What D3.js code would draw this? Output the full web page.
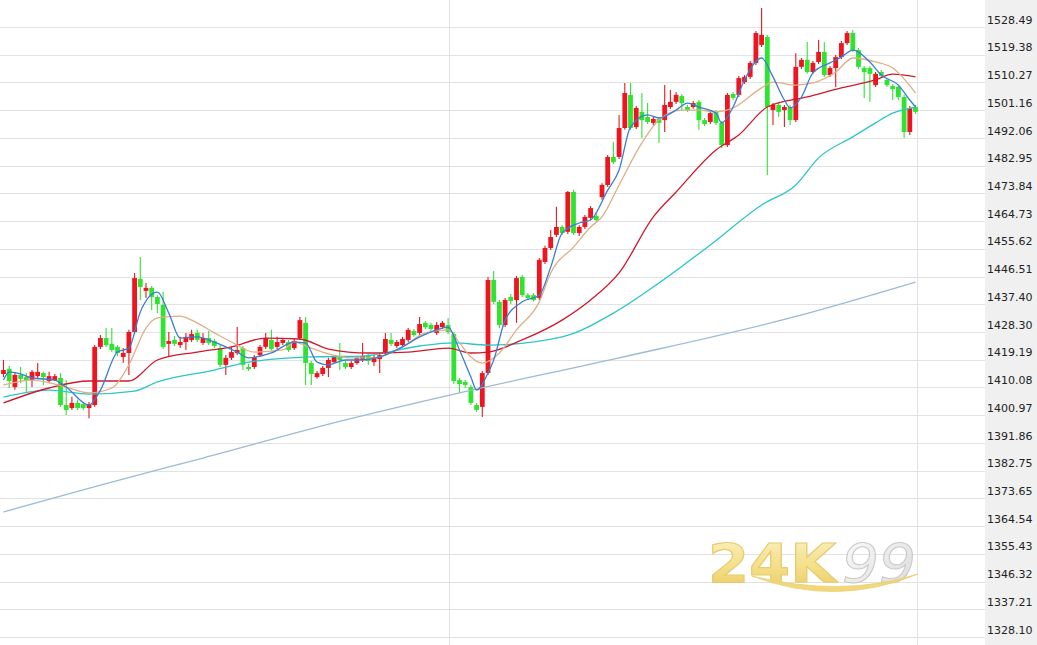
<!DOCTYPE html>
<html>
<head>
<meta charset="utf-8">
<script src="https://cdn.jsdelivr.net/npm/d3@7"></script>
<style>
  html, body { margin: 0; padding: 0; background: #fff; overflow: hidden; }
  svg { display: block; }
</style>
</head>
<body>
<script>
// K線 (one value per candle)
const opens = [
  1414.5,1416.2,1410.2,1414.2,1413.5,1412.5,1413.8,1414.8,1412.2,1412.5,
  1413.2,1404.3,1403.3,1405.0,1404.6,1403.3,1404.3,1423.4,1426.3,1424.4,
  1423.4,1420.1,1421.4,1428.3,1445.7,1441.8,1442.8,1439.8,1437.2,1424.4,
  1425.7,1424.0,1425.0,1425.7,1428.0,1424.7,1426.3,1425.3,1423.0,1417.5,
  1419.8,1421.4,1423.0,1416.8,1416.8,1420.7,1423.4,1425.7,1423.4,1424.7,
  1425.0,1423.0,1426.3,1431.3,1418.1,1413.5,1414.5,1416.5,1418.4,1420.1,
  1418.1,1416.8,1418.1,1419.1,1420.4,1418.4,1419.4,1421.7,1425.7,1423.7,
  1424.0,1425.7,1428.6,1428.0,1431.3,1430.6,1428.0,1429.9,1430.6,1427.6,
  1412.5,1411.9,1410.2,1404.3,1403.7,1414.8,1445.4,1438.2,1430.6,1439.8,
  1438.8,1446.4,1440.4,1440.4,1439.5,1451.3,1455.9,1460.2,1462.8,1461.2,
  1474.3,1460.8,1462.8,1465.8,1466.4,1472.6,1476.6,1485.8,1485.8,1495.3,
  1506.2,1495.6,1500.6,1498.9,1497.0,1498.3,1497.9,1502.2,1503.9,1505.8,
  1502.2,1502.2,1503.9,1497.9,1497.3,1500.6,1497.0,1489.7,1506.5,1506.2,
  1510.4,1512.1,1516.7,1522.6,1525.2,1501.2,1502.9,1501.2,1502.2,1497.9,
  1515.4,1517.7,1513.7,1517.0,1520.3,1512.7,1515.0,1518.6,1523.2,1526.5,
  1520.9,1515.0,1515.0,1509.4,1513.7,1511.1,1509.1,1508.8,1505.5,1494.0,
  1502.2
];
const highs = [
  1419.1,1417.1,1414.8,1416.8,1414.8,1415.8,1418.1,1415.2,1415.2,1414.5,
  1414.8,1412.5,1407.0,1406.0,1405.3,1405.3,1424.0,1427.3,1429.6,1429.6,
  1424.0,1423.0,1429.0,1447.7,1452.9,1444.4,1443.4,1440.4,1441.4,1428.3,
  1427.0,1426.7,1428.0,1429.0,1429.0,1428.0,1428.6,1426.0,1424.0,1420.7,
  1423.4,1429.9,1423.7,1417.8,1420.7,1424.0,1428.0,1429.0,1426.7,1426.3,
  1425.7,1426.0,1433.2,1433.2,1418.8,1415.5,1417.1,1419.8,1420.7,1424.7,
  1418.8,1418.8,1420.4,1424.7,1421.1,1420.7,1421.4,1428.0,1428.0,1425.7,
  1426.7,1429.6,1429.3,1433.2,1431.9,1431.3,1431.6,1431.9,1432.9,1428.3,
  1413.2,1412.5,1410.9,1405.0,1415.5,1446.4,1448.3,1438.8,1439.5,1440.8,
  1446.7,1447.0,1441.1,1441.1,1452.6,1456.6,1461.8,1469.4,1463.4,1474.6,
  1475.0,1463.4,1466.7,1469.7,1467.4,1477.2,1486.4,1490.7,1499.6,1510.1,
  1510.1,1502.5,1506.8,1503.5,1498.9,1498.9,1509.4,1507.8,1507.1,1506.5,
  1502.9,1504.2,1504.5,1498.6,1501.2,1501.2,1497.6,1506.8,1507.1,1512.4,
  1512.7,1517.3,1527.2,1534.7,1525.9,1503.5,1503.5,1502.9,1502.9,1519.9,
  1518.3,1523.6,1517.3,1524.2,1523.6,1515.7,1519.3,1523.9,1527.2,1527.5,
  1521.6,1515.7,1515.7,1513.7,1514.4,1511.7,1509.8,1509.4,1506.2,1502.5,
  1502.9
];
const lows = [
  1413.5,1409.9,1409.3,1411.5,1408.3,1410.2,1413.2,1410.9,1411.5,1412.2,
  1403.7,1401.0,1402.7,1402.7,1402.7,1400.0,1403.7,1422.7,1423.4,1421.7,
  1420.4,1418.1,1414.2,1427.6,1438.8,1439.5,1435.5,1434.5,1422.7,1420.1,
  1423.7,1423.0,1422.4,1425.0,1425.0,1424.0,1424.0,1423.0,1416.8,1414.2,
  1419.1,1420.7,1415.8,1415.5,1416.1,1420.1,1422.7,1422.1,1422.7,1424.0,
  1421.7,1422.4,1425.7,1410.9,1410.9,1412.9,1413.8,1413.5,1417.8,1415.8,
  1416.1,1416.1,1417.5,1418.4,1417.5,1417.1,1414.8,1421.1,1423.7,1423.0,
  1423.4,1425.0,1426.7,1427.3,1429.3,1428.6,1427.3,1429.3,1427.6,1411.2,
  1408.3,1409.9,1404.3,1402.0,1400.4,1414.2,1437.5,1429.6,1429.9,1437.5,
  1431.3,1439.8,1438.8,1438.2,1438.8,1450.6,1455.2,1459.5,1460.2,1460.5,
  1460.2,1459.8,1462.1,1465.1,1464.4,1471.7,1475.9,1483.5,1485.1,1494.7,
  1494.7,1495.0,1492.0,1496.6,1496.3,1490.4,1494.0,1501.6,1503.2,1501.2,
  1500.6,1501.6,1494.7,1496.0,1496.6,1496.3,1488.7,1489.1,1504.5,1505.5,
  1509.8,1511.4,1516.0,1521.9,1479.9,1496.3,1498.9,1495.6,1496.3,1497.3,
  1514.7,1513.1,1513.1,1516.3,1512.1,1512.1,1508.8,1518.0,1522.6,1520.3,
  1514.7,1505.2,1503.9,1508.8,1511.7,1508.8,1504.5,1504.5,1492.0,1493.0,
  1499.9
];
const closes = [
  1415.8,1412.2,1414.2,1412.9,1412.5,1415.2,1415.2,1413.5,1413.8,1413.8,
  1404.3,1402.7,1405.0,1403.3,1403.3,1404.6,1423.4,1426.3,1424.0,1422.4,
  1421.4,1421.4,1428.3,1446.0,1443.1,1442.8,1439.8,1437.5,1423.4,1425.3,
  1424.4,1425.0,1426.7,1427.6,1425.7,1426.3,1424.7,1423.7,1417.5,1419.8,
  1421.7,1422.4,1417.5,1416.1,1420.1,1423.4,1426.3,1422.7,1425.0,1425.7,
  1422.4,1425.3,1432.2,1418.1,1414.5,1414.8,1416.5,1419.1,1420.1,1419.1,
  1416.8,1418.1,1419.8,1420.4,1418.8,1420.1,1420.7,1426.0,1424.4,1425.0,
  1426.0,1429.0,1427.3,1430.9,1429.9,1429.3,1430.6,1431.3,1428.3,1412.2,
  1411.2,1410.9,1405.0,1402.7,1414.8,1445.4,1438.2,1430.6,1438.8,1438.5,
  1446.0,1440.4,1439.5,1438.8,1452.0,1455.9,1459.5,1462.8,1460.8,1474.3,
  1460.8,1462.8,1466.1,1469.0,1465.1,1476.6,1485.8,1484.1,1495.3,1506.8,
  1495.3,1501.9,1497.9,1497.3,1498.3,1497.0,1502.9,1503.9,1506.2,1503.5,
  1501.2,1503.5,1497.9,1496.6,1500.2,1497.0,1489.7,1506.2,1505.2,1511.7,
  1512.1,1516.7,1526.5,1525.9,1502.2,1502.9,1500.6,1502.2,1497.9,1515.4,
  1517.7,1513.7,1516.7,1520.3,1512.7,1515.0,1518.6,1523.2,1526.5,1520.9,
  1515.4,1513.7,1513.1,1513.1,1512.4,1509.4,1508.1,1505.5,1494.0,1501.9,
  1500.6
];

// 均線 [candle index, value]
const maFast = [[0,1412.5],[1,1415.2],[3,1414.5],[5,1413.2],[9,1412.5],[11,1410.2],[15,1404.3],[17,1409.2],
  [20,1421.7],[22,1423.0],[24,1434.9],[27,1441.4],[29,1434.5],[31,1426.3],[34,1426.7],[37,1425.0],
  [41,1421.7],[43,1419.8],[47,1421.4],[51,1425.0],[53,1424.7],[55,1418.4],[57,1417.5],[60,1419.1],
  [63,1419.1],[66,1420.1],[70,1423.4],[73,1426.7],[76,1429.0],[78,1429.9],[80,1422.4],[82,1413.5],
  [83,1409.2],[85,1414.8],[86,1419.1],[88,1432.2],[91,1438.2],[94,1440.4],[96,1449.6],[98,1460.8],
  [101,1464.1],[103,1465.1],[106,1474.9],[108,1481.5],[110,1495.6],[113,1499.6],[115,1498.6],
  [118,1501.2],[120,1503.5],[122,1502.2],[125,1500.2],[126,1497.0],[128,1502.2],[130,1511.1],
  [133,1518.3],[135,1512.1],[137,1504.5],[138,1501.9],[140,1505.5],[142,1513.4],[145,1516.7],
  [147,1518.6],[149,1520.9],[152,1517.0],[154,1512.7],[157,1509.4],[159,1504.5],[160,1502.2]];
const maMid = [[0,1410.9],[5,1412.5],[11,1410.2],[15,1408.3],[19,1409.9],[22,1417.5],[25,1429.6],
  [27,1432.9],[31,1433.5],[33,1432.2],[37,1428.0],[40,1425.0],[44,1421.7],[49,1422.4],[51,1425.0],
  [54,1423.0],[57,1421.1],[61,1419.8],[65,1419.8],[70,1423.4],[74,1428.0],[78,1429.0],[80,1424.7],
  [82,1420.1],[84,1418.1],[87,1421.4],[90,1429.0],[94,1438.2],[96,1447.7],[100,1456.2],[103,1462.8],
  [105,1466.1],[108,1476.6],[112,1490.4],[115,1498.0],[119,1501.2],[122,1501.2],[125,1500.6],
  [128,1501.9],[133,1508.5],[135,1510.4],[139,1509.4],[142,1510.1],[146,1513.7],[149,1518.3],
  [153,1517.0],[156,1515.0],[160,1506.8]];
const maSlow = [[0,1405.0],[8,1409.9],[15,1412.2],[22,1412.2],[27,1419.1],[34,1421.7],[40,1423.4],
  [46,1426.3],[52,1426.0],[57,1422.7],[64,1421.4],[71,1421.7],[78,1423.0],[82,1421.4],[85,1421.7],
  [91,1425.7],[98,1432.2],[103,1438.8],[108,1447.7],[114,1466.1],[118,1474.3],[125,1488.1],
  [129,1493.0],[134,1502.2],[141,1505.5],[147,1508.5],[153,1511.1],[156,1513.0],[160,1512.1]];
const maLong = [[0,1406.9],[8,1409.2],[15,1407.9],[23,1408.9],[27,1411.9],[37,1415.8],[43,1418.4],
  [54,1420.1],[63,1420.4],[73,1423.7],[79,1424.7],[85,1424.0],[98,1426.7],[107,1434.5],[115,1444.4],
  [124,1456.9],[133,1470.0],[139,1476.6],[143,1485.5],[149,1492.4],[153,1497.0],
  [156,1500.2],[160,1502.2]];
const maTrend = [[0,1369.2],[17,1378.0],[35,1386.9],[60,1399.4],[80,1408.3],[108,1419.8],
  [138,1432.9],[160,1444.7]];

// 右側刻度
const tickLabels = ["1528.49","1519.38","1510.27","1501.16","1492.06","1482.95","1473.84","1464.73",
  "1455.62","1446.51","1437.40","1428.30","1419.19","1410.08","1400.97","1391.86","1382.75",
  "1373.65","1364.54","1355.43","1346.32","1337.21","1328.10"];
const sessionBreaks = [78.2, 160.2];

const w = 1037;
const h = 645;
const plotRight = 985;

const svg = d3.select("body").append("svg").attr("width", w).attr("height", h);

const x = d3.scaleLinear().domain([0, 160]).range([3.5, 915.5]);
const y = d3.scaleLinear().domain([1328.10, 1528.49]).range([637, 27]);
const tickValues = tickLabels.map(Number);

// 右側價格欄背景
svg.append("rect")
  .attr("x", plotRight).attr("y", 0)
  .attr("width", w - plotRight).attr("height", h)
  .attr("fill", "#f0f0f0");

// 水平格線
const grid = svg.append("g")
  .attr("shape-rendering", "crispEdges")
  .call(d3.axisRight(y).tickValues(tickValues).tickSize(plotRight).tickFormat(""));
grid.select(".domain").remove();
grid.selectAll("line").attr("stroke", "#e2e2e2");

// 垂直格線
svg.append("g")
  .attr("shape-rendering", "crispEdges")
  .selectAll("line")
  .data(sessionBreaks)
  .enter()
  .append("line")
  .attr("x1", d => Math.round(x(d)) + 0.5)
  .attr("x2", d => Math.round(x(d)) + 0.5)
  .attr("y1", 0)
  .attr("y2", h)
  .attr("stroke", "#e2e2e2");

// 浮水印 24K99
const defs = svg.append("defs");
const gold = defs.append("linearGradient").attr("id", "gold").attr("x1", 0).attr("y1", 0).attr("x2", 0).attr("y2", 1);
gold.append("stop").attr("offset", "0%").attr("stop-color", "#fbf1c0");
gold.append("stop").attr("offset", "55%").attr("stop-color", "#f4dc7c");
gold.append("stop").attr("offset", "100%").attr("stop-color", "#e8c24e");
const silver = defs.append("linearGradient").attr("id", "silver").attr("x1", 0).attr("y1", 0).attr("x2", 1).attr("y2", 1);
silver.append("stop").attr("offset", "0%").attr("stop-color", "#fdfdfd");
silver.append("stop").attr("offset", "100%").attr("stop-color", "#d4d4d4");

const mark = svg.append("g").attr("opacity", 0.9);
mark.append("text")
  .attr("x", 708).attr("y", 582)
  .attr("font-family", "'DejaVu Sans', sans-serif")
  .attr("font-weight", "bold")
  .attr("font-size", 54)
  .attr("textLength", 128)
  .attr("lengthAdjust", "spacingAndGlyphs")
  .attr("fill", "url(#gold)")
  .attr("stroke", "#e6c764")
  .attr("stroke-width", 1.2)
  .text("24K");
mark.append("text")
  .attr("x", 842).attr("y", 582)
  .attr("font-family", "'DejaVu Sans', sans-serif")
  .attr("font-style", "italic")
  .attr("font-size", 54)
  .attr("textLength", 74)
  .attr("lengthAdjust", "spacingAndGlyphs")
  .attr("fill", "url(#silver)")
  .attr("stroke", "#c4c4c4")
  .attr("stroke-width", 1)
  .text("99");
mark.append("path")
  .attr("d", "M752,576 Q835,608 918,574 Q842,598 752,576 Z")
  .attr("fill", "#f0d470")
  .attr("stroke", "#eacb5e")
  .attr("stroke-width", 0.8);

// K線
const candles = opens.map((o, i) => ({ i: i, o: o, h: highs[i], l: lows[i], c: closes[i] }));
const upColor = "#ec1520";
const downColor = "#2fe430";
const bodyW = 4.8;

const cg = svg.append("g").selectAll("g").data(candles).enter().append("g");
cg.append("line")
  .attr("x1", d => x(d.i))
  .attr("x2", d => x(d.i))
  .attr("y1", d => y(d.h))
  .attr("y2", d => y(d.l))
  .attr("stroke", d => (d.c >= d.o ? upColor : downColor))
  .attr("stroke-width", 1.1);
cg.append("rect")
  .attr("x", d => x(d.i) - bodyW / 2)
  .attr("y", d => y(Math.max(d.o, d.c)))
  .attr("width", bodyW)
  .attr("height", d => Math.max(1.2, Math.abs(y(d.o) - y(d.c))))
  .attr("fill", d => (d.c >= d.o ? upColor : downColor));

// 均線
const line = d3.line()
  .x(d => x(d[0]))
  .y(d => y(d[1]))
  .curve(d3.curveMonotoneX);
const maSeries = [
  { data: maTrend, color: "#9dbad6" },
  { data: maLong, color: "#2bc6c8" },
  { data: maSlow, color: "#d0192b" },
  { data: maMid, color: "#dfae86" },
  { data: maFast, color: "#3a7ed2" }
];
svg.append("g")
  .selectAll("path")
  .data(maSeries)
  .enter()
  .append("path")
  .attr("d", d => line(d.data))
  .attr("fill", "none")
  .attr("stroke", d => d.color)
  .attr("stroke-width", 1.3);

// 價格刻度
const axis = svg.append("g")
  .attr("transform", "translate(" + (plotRight + 2) + ",0)")
  .call(d3.axisRight(y).tickValues(tickValues).tickSize(0).tickFormat(d3.format(".2f")));
axis.select(".domain").remove();
axis.selectAll("text")
  .attr("x", 0)
  .attr("dy", "-0.35em")
  .attr("text-anchor", "start")
  .attr("fill", "#222")
  .attr("font-family", "'DejaVu Sans', Verdana, sans-serif")
  .attr("font-size", 11);
</script>
</body>
</html>
